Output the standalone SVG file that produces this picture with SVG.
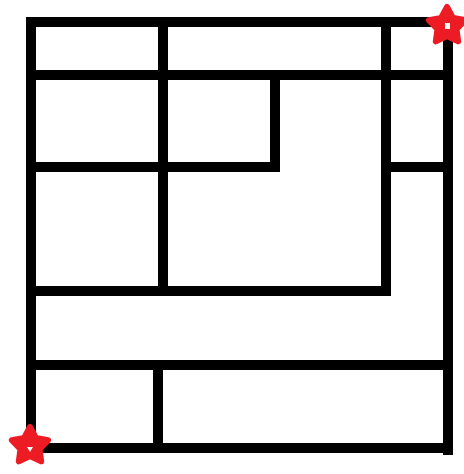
<svg xmlns="http://www.w3.org/2000/svg" width="464" height="474" viewBox="0 0 464 474">
<style>
.w{stroke:#000;stroke-width:10;stroke-linecap:square;fill:none}
.star{fill:#ED1C24;stroke:#ED1C24;stroke-width:6;stroke-linejoin:round}
.hole{fill:#fff}
</style>
<defs>
<polygon id="st" points="0,-19 5.9,-8.1 18.1,-5.9 9.5,3.1 11.2,15.4 0,10 -11.2,15.4 -9.5,3.1 -18.1,-5.9 -5.9,-8.1"/>
</defs>
<rect width="464" height="474" fill="#fff"/>
<g id="walls">
<line class="w" x1="31" y1="22" x2="448" y2="22"/>
<line class="w" x1="31" y1="22" x2="31" y2="448"/>
<line class="w" x1="448" y1="22" x2="448" y2="450"/>
<line class="w" x1="31" y1="448" x2="448" y2="448"/>
<line class="w" x1="31" y1="75" x2="448" y2="75"/>
<line class="w" x1="163" y1="22" x2="163" y2="291"/>
<line class="w" x1="386" y1="22" x2="386" y2="291"/>
<line class="w" x1="275" y1="75" x2="275" y2="167"/>
<line class="w" x1="31" y1="167" x2="275" y2="167"/>
<line class="w" x1="386" y1="167" x2="448" y2="167"/>
<line class="w" x1="31" y1="291" x2="386" y2="291"/>
<line class="w" x1="31" y1="365" x2="448" y2="365"/>
<line class="w" x1="158" y1="365" x2="158" y2="448"/>
</g>
<g id="star-top-right">
<use href="#st" class="star" transform="translate(447,26)"/>
<rect class="hole" x="445" y="23" width="5" height="6"/>
</g>
<g id="star-bottom-left">
<use href="#st" class="star" transform="translate(30,446)"/>
<polygon class="hole" points="27,447 33,447 30,452"/>
</g>
</svg>
